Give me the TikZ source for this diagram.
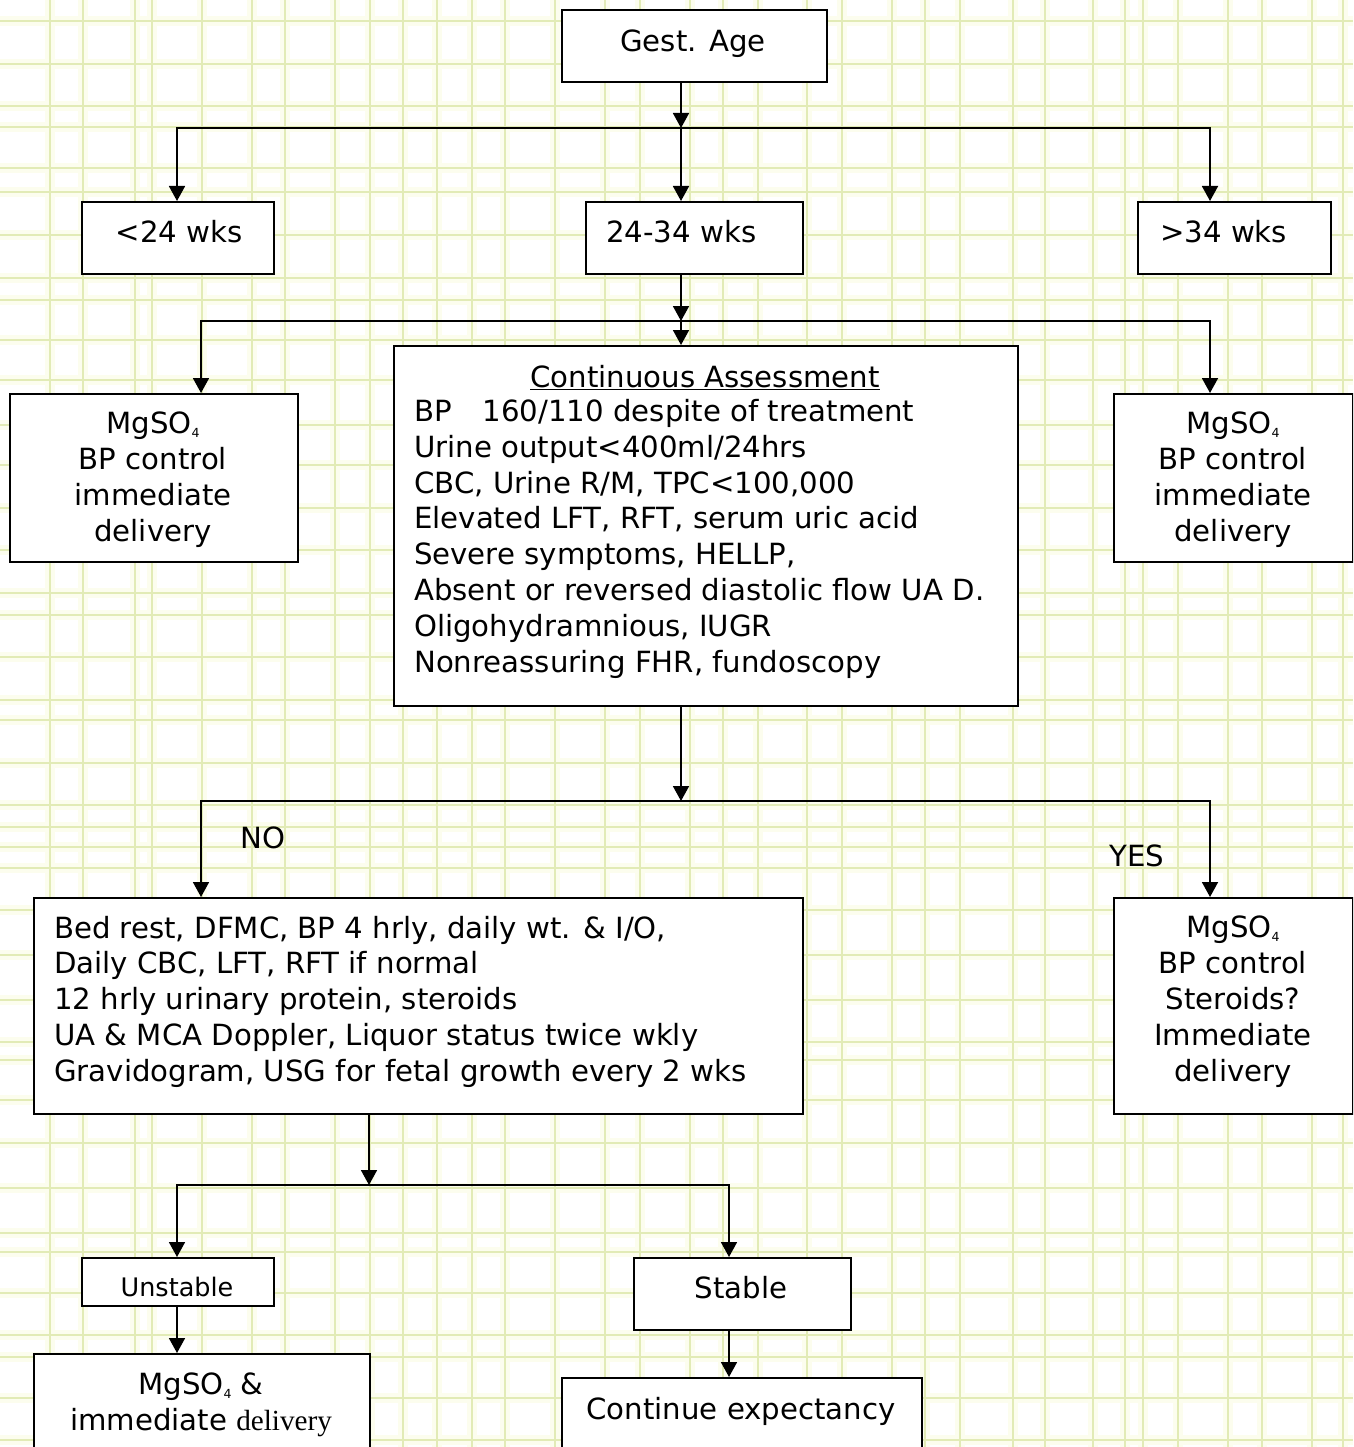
\documentclass[tikz,border=0pt]{standalone}
\usepackage{fontspec}
\setmainfont{DejaVu Sans}
\newfontfamily\delivfont{Liberation Serif}
\usetikzlibrary{arrows.meta}
% small lowered subscript four for MgSO4
\newcommand\lowfour{\raisebox{-4pt}{\fontsize{12.5}{12.5}\selectfont 4}}
\definecolor{gridline}{RGB}{226,235,182}
\definecolor{gridband}{RGB}{252,253,238}

\begin{document}
\begin{tikzpicture}[x=1pt,y=-1pt,
  box/.style={draw=black, line width=1.8pt, fill=white, inner sep=0pt, anchor=north west},
  txt/.style={font=\fontsize{29.2}{35.8}\selectfont, inner sep=0pt,
              execute at begin node=\strut, execute at end node=\strut},
  arr/.style={line width=1.8pt, -{Triangle[length=15pt,width=16pt]}},
  band/.style={draw=gridband, line width=10pt},
  rule/.style={draw=gridline, line width=1.2pt}]

\clip (0,0) rectangle (1353,1447);
\fill[white] (0,0) rectangle (1353,1447);

% plaid background
\foreach \x in {50,83,135,152,202,252,285,335,370,403,437,472,505,555,605,640,690,723,758,807,842,892,925,960,1013,1045,1093,1125,1143,1178,1228,1262,1312,1343}
  {\draw[band] (\x,0) -- (\x,1447);}
\foreach \y in {21,64,106,127,168,192,235,278,300,340,380,425,465,508,550,593,615,657,700,720,763,805,827,847,868,910,955,1000,1042,1060,1100,1143,1188,1233,1252,1293,1335,1357,1398,1440}
  {\draw[band] (0,\y) -- (1353,\y);}
\foreach \x in {50,83,135,152,202,252,285,335,370,403,437,472,505,555,605,640,690,723,758,807,842,892,925,960,1013,1045,1093,1125,1143,1178,1228,1262,1312,1343}
  {\draw[rule] (\x,0) -- (\x,1447);}
\foreach \y in {21,64,106,127,168,192,235,278,300,340,380,425,465,508,550,593,615,657,700,720,763,805,827,847,868,910,955,1000,1042,1060,1100,1143,1188,1233,1252,1293,1335,1357,1398,1440}
  {\draw[rule] (0,\y) -- (1353,\y);}

% boxes
\node[box, minimum width=265, minimum height=72]  (gest) at (561,9) {};
\node[box, minimum width=192, minimum height=72]  (lt)   at (81,201) {};
\node[box, minimum width=217, minimum height=72]  (mid)  at (585,201) {};
\node[box, minimum width=193, minimum height=72]  (gt)   at (1137,201) {};
\node[box, minimum width=288, minimum height=168] (lmg)  at (9,393) {};
\node[box, minimum width=624, minimum height=360] (ca)   at (393,345) {};
\node[box, minimum width=239, minimum height=168] (rmg)  at (1113,393) {};
\node[box, minimum width=769, minimum height=216] (obs)  at (33,897) {};
\node[box, minimum width=239, minimum height=216] (ymg)  at (1113,897) {};
\node[box, minimum width=192, minimum height=48]  (unst) at (81,1257) {};
\node[box, minimum width=217, minimum height=72]  (stab) at (633,1257) {};
\node[box, minimum width=336, minimum height=120] (mgd)  at (33,1353) {};
\node[box, minimum width=360, minimum height=100] (cont) at (561,1377) {};

% texts
\node[txt] (tgest) at (693,44) {Gest. Age};
\node[txt] (tlt) at (179,235) {<24 wks};
\node[txt, anchor=west] (tmid) at (606,235) {24-34 wks};
\node[txt, anchor=west] (tgt) at (1160,235) {>34 wks};
\node[txt, align=center] (tlmg) at (153,482) {MgSO\lowfour\\BP control\\immediate\\delivery};
\node[txt, align=center] (trmg) at (1233,482) {MgSO\lowfour\\BP control\\immediate\\delivery};
\node[txt] (tcat) at (705,380) {\underline{Continuous Assessment}};
\node[txt, align=left, anchor=west] (tcab) at (414,541)
  {BP\hspace{31pt}160/110 despite of treatment\\
   Urine output<400ml/24hrs\\
   CBC, Urine R/M, TPC<100,000\\
   Elevated LFT, RFT, serum uric acid\\
   Severe symptoms, HELLP,\\
   Absent or reversed diastolic flow UA D.\\
   Oligohydramnious, IUGR\\
   Nonreassuring FHR, fundoscopy};
\node[txt] (tno) at (263,841) {NO};
\node[txt] (tyes) at (1137,859) {YES};
\node[txt, align=left, anchor=west] (tobs) at (54,1004)
  {Bed rest, DFMC, BP 4 hrly, daily wt. \& I/O,\\
   Daily CBC, LFT, RFT if normal\\
   12 hrly urinary protein, steroids\\
   UA \& MCA Doppler, Liquor status twice wkly\\
   Gravidogram, USG for fetal growth every 2 wks};
\node[txt, align=center] (tymg) at (1233,1004) {MgSO\lowfour\\BP control\\Steroids?\\Immediate\\delivery};
\node[txt, font=\fontsize{25.5}{30}\selectfont] (tun) at (177,1290) {Unstable};
\node[txt] (tst) at (741,1291) {Stable};
\node[txt, align=center] (tmgd) at (201,1407) {MgSO\lowfour{} \&\\immediate {\delivfont delivery}};
\node[txt] (tcont) at (741,1412) {Continue expectancy};

% junction points
\coordinate (j1) at (681,128);  \coordinate (j1l) at (177,128);  \coordinate (j1r) at (1210,128);
\coordinate (j2) at (681,321);  \coordinate (j2l) at (201,321);  \coordinate (j2r) at (1210,321);
\coordinate (j3) at (681,801);  \coordinate (j3l) at (201,801);  \coordinate (j3r) at (1210,801);
\coordinate (j4) at (369,1185); \coordinate (j4l) at (177,1185); \coordinate (j4r) at (729,1185);

% connectors
\draw[arr] (j1 |- gest.south) -- (j1);
\draw[arr] (j1) -- (j1 |- mid.north);
\draw[arr] (j1) -- (j1l) -- (j1l |- lt.north);
\draw[arr] (j1) -- (j1r) -- (j1r |- gt.north);

\draw[arr] (j2 |- mid.south) -- (j2);
\draw[arr] (j2) -- (j2 |- ca.north);
\draw[arr] (j2) -- (j2l) -- (j2l |- lmg.north);
\draw[arr] (j2) -- (j2r) -- (j2r |- rmg.north);

\draw[arr] (j3 |- ca.south) -- (j3);
\draw[arr] (j3) -- (j3l) -- (j3l |- obs.north);
\draw[arr] (j3) -- (j3r) -- (j3r |- ymg.north);

\draw[arr] (j4 |- obs.south) -- (j4);
\draw[arr] (j4) -- (j4l) -- (j4l |- unst.north);
\draw[arr] (j4) -- (j4r) -- (j4r |- stab.north);

\draw[arr] (j4l |- unst.south) -- (j4l |- mgd.north);
\draw[arr] (j4r |- stab.south) -- (j4r |- cont.north);
\end{tikzpicture}
\end{document}
